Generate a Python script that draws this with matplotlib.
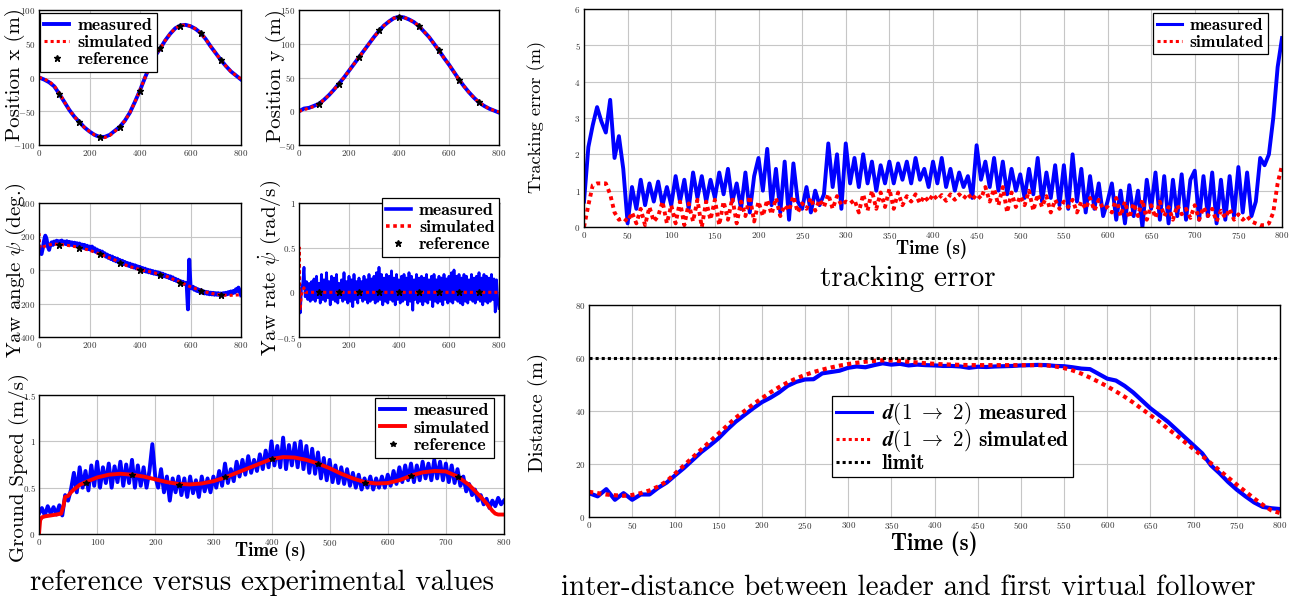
import numpy as np
import matplotlib
matplotlib.use("Agg")
import matplotlib.pyplot as plt
from matplotlib.font_manager import FontProperties
from matplotlib.ticker import FuncFormatter, MultipleLocator

plt.rcParams.update({
    "font.family": "cmr10",
    "mathtext.fontset": "cm",
    "axes.formatter.use_mathtext": True,
    "axes.unicode_minus": False,
})

W, H = 1296, 603
BLUE = "#0000ff"
RED = "#ff0000"

# ---------------------------------------------------------------- data
# trajectory positions, sampled every 20 s
pos_t = [0, 20, 40, 60, 80, 100, 120, 140, 160, 180, 200, 220, 240, 260, 280, 300, 320, 340, 360, 380,
         400, 420, 440, 460, 480, 500, 520, 540, 560, 580, 600, 620, 640, 660, 680, 700, 720, 740, 760, 780, 800]
pos_x_measured = [0, -3, -7, -13, -24, -36, -48, -58, -66, -74, -80, -85, -88, -88, -85, -79, -73, -64, -52, -36,
                  -19, 0, 18, 32, 43, 55, 65, 73, 77, 78, 76, 72, 66, 57, 46, 36, 26, 17, 9, 3, -3]
pos_x_simulated = [0, -2, -6, -12, -23, -36, -48, -58, -66, -74, -80, -85, -88, -89, -86, -80, -73, -64, -52, -36,
                   -19, 0, 18, 32, 43, 55, 65, 73, 77, 78, 76, 72, 66, 57, 46, 36, 26, 17, 9, 3, -2]
pos_y_measured = [0, 4, 5, 8, 11, 17, 24, 32, 41, 50, 60, 70, 80, 90, 100, 110, 119, 127, 133, 138,
                  140, 139, 136, 132, 126, 118, 110, 100, 90, 79, 69, 58, 47, 37, 28, 20, 13, 8, 4, 1, -2]
pos_y_simulated = [0, 2, 5, 7, 11, 17, 24, 32, 41, 50, 60, 70, 80, 90, 100, 110, 119, 127, 133, 138,
                   140, 139, 136, 132, 126, 118, 110, 100, 90, 79, 69, 58, 47, 37, 28, 20, 13, 8, 4, 1, -1]

# reference waypoints every 80 s
ref_t = [80, 160, 240, 320, 400, 480, 560, 640, 720]
ref_x = [-24, -66, -88, -73, -20, 43, 77, 66, 26]
ref_y = [11, 41, 80, 120, 140, 127, 90, 47, 14]
ref_yaw = [152, 133, 95, 44, 0, -30, -79, -125, -152]
ref_rate = [0, 0, 0, 0, 0, 0, 0, 0, 0]
ref_speed = [0.555, 0.64, 0.53, 0.61, 0.81, 0.76, 0.55, 0.63, 0.62]

# measured signals sampled every 5 s (0 ... 800 s)
yaw_measured = [
    140, 100, 95, 130, 175, 205, 185, 140, 120, 150,
    165, 150, 170, 158, 175, 160, 172, 158, 176, 160,
    170, 155, 172, 152, 168, 150, 165, 148, 163, 146,
    160, 140, 158, 138, 152, 132, 150, 128, 145, 125,
    140, 120, 140, 115, 130, 108, 122, 100, 115, 95,
    110, 88, 100, 80, 92, 72, 85, 65, 80, 58,
    72, 52, 68, 45, 60, 40, 55, 35, 48, 30,
    42, 25, 38, 20, 32, 15, 28, 10, 22, 5,
    18, 0, 12, -5, 8, -10, 2, -14, -2, -18,
    -6, -22, -10, -25, -14, -30, -18, -34, -22, -38,
    -28, -42, -34, -48, -38, -54, -44, -60, -52, -66,
    -58, -72, -66, -78, -70, -84, -76, -88, -235, 62,
    -95, -110, -100, -118, -108, -125, -115, -130, -120, -135,
    -126, -140, -130, -142, -132, -145, -135, -146, -136, -148,
    -138, -148, -138, -150, -140, -150, -138, -148, -136, -145,
    -132, -142, -128, -140, -125, -135, -115, -125, -105, -130,
    -150]
yaw_sim_t = [0, 2, 5, 10, 20, 40, 60, 100, 150, 200, 250, 300, 350, 400, 450, 500, 550, 600, 650, 700, 750, 800]
yaw_simulated = [220, 170, 130, 130, 140, 150, 155, 150, 138, 118, 90, 60, 25, 2, -14, -35, -67, -100, -128, -145, -152, -148]

rate_measured = [
    0.0, -0.23, 0.05, 0.1, 0.28, -0.05, 0.12, -0.08, 0.1, -0.1,
    0.12, -0.08, 0.15, -0.1, 0.18, -0.06, 0.1, -0.12, 0.2, -0.08,
    0.14, -0.1, 0.22, -0.06, 0.12, -0.14, 0.18, -0.08, 0.16, -0.1,
    0.2, -0.12, 0.1, -0.06, 0.14, -0.1, 0.22, -0.08, 0.12, -0.12,
    0.18, -0.1, 0.14, -0.16, 0.2, -0.08, 0.12, -0.12, 0.16, -0.06,
    0.12, -0.1, 0.18, -0.08, 0.14, -0.12, 0.2, -0.1, 0.15, -0.08,
    0.18, -0.12, 0.22, -0.1, 0.28, -0.08, 0.2, -0.14, 0.16, -0.1,
    0.2, -0.12, 0.18, -0.08, 0.24, -0.1, 0.16, -0.14, 0.2, -0.08,
    0.14, -0.12, 0.18, -0.1, 0.2, -0.08, 0.16, -0.14, 0.22, -0.1,
    0.18, -0.2, 0.14, -0.08, 0.2, -0.12, 0.16, -0.1, 0.18, -0.14,
    0.16, -0.1, 0.2, -0.12, 0.14, -0.08, 0.18, -0.16, 0.2, -0.1,
    0.14, -0.12, 0.18, -0.1, 0.16, -0.14, 0.2, -0.08, 0.15, -0.12,
    0.18, -0.1, 0.22, -0.12, 0.25, -0.08, 0.18, -0.1, 0.2, -0.12,
    0.16, -0.14, 0.2, -0.1, 0.18, -0.12, 0.14, -0.08, 0.2, -0.1,
    0.16, -0.12, 0.18, -0.08, 0.22, -0.1, 0.16, -0.14, 0.2, -0.1,
    0.18, -0.12, 0.16, -0.1, 0.2, -0.08, 0.15, -0.22, 0.14, -0.1,
    -0.18]
rate_sim_t = [0, 1, 2, 3, 4, 6, 8, 12, 16, 20, 25, 30, 800]
rate_simulated = [0, 0.5, 0.3, -0.1, -0.2, -0.15, -0.05, 0.0, 0.03, 0.05, 0.0, 0.0, 0.0]

speed_measured = [
    0.22, 0.28, 0.2, 0.3, 0.22, 0.29, 0.21, 0.31, 0.2, 0.42,
    0.36, 0.48, 0.66, 0.45, 0.72, 0.5, 0.68, 0.47, 0.74, 0.52,
    0.78, 0.5, 0.72, 0.55, 0.76, 0.5, 0.73, 0.56, 0.78, 0.52,
    0.75, 0.55, 0.8, 0.5, 0.74, 0.52, 0.72, 0.5, 0.68, 0.97,
    0.62, 0.5, 0.7, 0.45, 0.62, 0.36, 0.6, 0.45, 0.62, 0.42,
    0.6, 0.4, 0.62, 0.44, 0.58, 0.4, 0.62, 0.46, 0.6, 0.45,
    0.62, 0.5, 0.68, 0.52, 0.76, 0.55, 0.7, 0.57, 0.78, 0.62,
    0.8, 0.64, 0.84, 0.66, 0.8, 0.68, 0.86, 0.7, 0.9, 0.72,
    1.0, 0.74, 0.95, 0.72, 1.04, 0.7, 0.96, 0.74, 0.98, 0.72,
    1.0, 0.7, 0.95, 0.66, 0.92, 0.65, 0.88, 0.6, 0.82, 0.58,
    0.8, 0.56, 0.74, 0.55, 0.72, 0.54, 0.7, 0.52, 0.66, 0.5,
    0.64, 0.48, 0.6, 0.5, 0.62, 0.48, 0.6, 0.5, 0.62, 0.5,
    0.64, 0.52, 0.68, 0.54, 0.72, 0.56, 0.74, 0.58, 0.76, 0.56,
    0.74, 0.58, 0.78, 0.6, 0.76, 0.58, 0.8, 0.6, 0.78, 0.58,
    0.76, 0.56, 0.74, 0.55, 0.7, 0.52, 0.62, 0.46, 0.54, 0.42,
    0.48, 0.36, 0.42, 0.32, 0.38, 0.28, 0.36, 0.3, 0.39, 0.32,
    0.36]
speed_sim_t = [0, 2, 5, 10, 20, 30, 38, 42, 45, 50, 55, 60, 70, 80, 100, 120, 140, 160, 180, 200,
               220, 240, 260, 280, 300, 320, 340, 360, 380, 400, 420, 440, 460, 480, 500, 520, 540, 560, 580, 600,
               620, 640, 660, 680, 700, 720, 740, 760, 770, 780, 785, 790, 800]
speed_simulated = [0, 0.15, 0.18, 0.19, 0.2, 0.21, 0.22, 0.3, 0.4, 0.41, 0.45, 0.48, 0.53, 0.56, 0.61, 0.64, 0.65, 0.64, 0.62, 0.59,
                   0.56, 0.54, 0.535, 0.545, 0.57, 0.61, 0.66, 0.71, 0.76, 0.81, 0.83, 0.825, 0.8, 0.76, 0.71, 0.65, 0.6, 0.56, 0.545, 0.55,
                   0.58, 0.63, 0.665, 0.68, 0.675, 0.62, 0.53, 0.4, 0.33, 0.25, 0.22, 0.21, 0.21]

err_measured = [
    0.7, 2.2, 2.8, 3.3, 2.9, 2.6, 3.5, 1.9, 2.5, 1.6,
    0.1, 1.1, 0.5, 1.3, 0.6, 1.2, 0.7, 1.25, 0.6, 1.1,
    0.6, 1.4, 0.7, 1.3, 0.5, 1.5, 0.8, 1.4, 0.7, 1.3,
    0.8, 1.5, 0.9, 1.6, 0.7, 1.2, 0.5, 1.5, 0.4, 1.4,
    1.9, 1.0, 2.15, 0.6, 1.6, 0.4, 1.8, 0.2, 1.75, 0.7,
    0.5, 1.1, 0.4, 1.0, 0.6, 0.9, 2.3, 1.1, 2.0, 0.5,
    2.3, 1.2, 1.9, 1.1, 2.0, 1.2, 1.8, 1.0, 1.7, 1.2,
    1.8, 1.2, 1.75, 1.3, 1.8, 1.2, 1.9, 1.3, 1.6, 1.1,
    1.8, 1.2, 1.9, 1.1, 1.6, 1.0, 1.5, 1.1, 1.4, 0.8,
    2.25, 1.3, 1.8, 1.1, 1.9, 1.0, 1.8, 0.9, 1.6, 1.0,
    1.45, 0.8, 1.6, 0.9, 1.9, 0.7, 1.5, 0.8, 1.7, 0.6,
    1.7, 0.5, 2.0, 0.7, 1.6, 0.4, 1.4, 0.5, 1.2, 0.3,
    0.7, 1.2, 0.2, 1.0, 0.1, 1.15, 0.3, 1.0, 0.0, 1.3,
    0.5, 1.5, 0.2, 1.4, 0.1, 1.3, 0.3, 1.45, 0.2, 1.3,
    1.55, 0.2, 1.4, 0.3, 1.5, 0.1, 1.3, 0.2, 1.4, 0.3,
    1.65, 0.4, 1.5, 0.3, 0.7, 1.9, 1.7, 2.0, 3.0, 4.4,
    5.2]
err_simulated = [
    0.0, 0.6, 1.15, 1.2, 1.2, 1.2, 0.9, 0.4, 0.2, 0.25,
    0.15, 0.4, 0.1, 0.5, 0.05, 0.55, 0.15, 0.3, 0.7, 0.1,
    0.6, 0.1, 0.7, 0.05, 0.65, 0.15, 0.75, 0.0, 0.7, 0.2,
    0.75, 0.05, 0.7, 0.2, 0.8, 0.1, 0.7, 0.3, 0.85, 0.15,
    0.7, 0.3, 0.75, 0.35, 0.8, 0.3, 0.6, 0.45, 0.85, 0.4,
    0.65, 0.5, 0.8, 0.45, 0.75, 0.55, 0.9, 0.5, 0.85, 0.6,
    0.7, 0.65, 0.75, 0.4, 0.9, 0.45, 1.0, 0.5, 0.95, 0.55,
    1.05, 0.5, 0.95, 0.6, 0.85, 0.7, 0.9, 0.65, 0.85, 0.7,
    0.9, 0.75, 0.88, 0.72, 0.9, 0.75, 0.9, 0.78, 0.92, 0.75,
    0.9, 0.78, 1.1, 0.7, 1.05, 0.6, 1.1, 0.4, 0.95, 0.55,
    0.85, 0.6, 1.0, 0.45, 0.9, 0.55, 0.85, 0.4, 0.75, 0.5,
    0.7, 0.55, 0.75, 0.4, 0.7, 0.5, 0.8, 0.45, 0.75, 0.5,
    0.55, 0.4, 0.8, 0.3, 0.7, 0.25, 0.65, 0.3, 0.75, 0.2,
    0.6, 0.25, 0.7, 0.3, 0.55, 0.2, 0.6, 0.35, 0.5, 0.25,
    0.6, 0.2, 0.55, 0.3, 0.5, 0.15, 0.45, 0.25, 0.5, 0.2,
    0.35, 0.2, 0.3, 0.15, 0.1, 0.05, 0.05, 0.1, 0.4, 1.2,
    1.7]

# leader / first follower distance, sampled every 10 s
dist_measured = [
    9, 7.8, 10.5, 6.5, 9, 6.5, 8.5, 8.5, 11, 13,
    15.8, 18.5, 21.5, 24.5, 27, 29.7, 33, 36, 38.5, 41,
    43.3, 45, 47, 49.5, 51, 51.9, 52, 54.2, 54.7, 55.2,
    56.3, 56.8, 56.5, 57.3, 58, 57.5, 57.8, 57.2, 57.5, 57.3,
    57.2, 57, 57, 56.8, 56.3, 56.7, 56.6, 56.8, 56.9, 57,
    57.2, 57.3, 57.4, 57.3, 57, 56.9, 56.5, 56, 55.8, 54,
    52.2, 51.5, 49.5, 47, 44, 41, 38.5, 36, 33, 30,
    27, 24, 19.5, 16.5, 13.2, 10.3, 7.8, 5.5, 3.8, 3.3,
    3.0]
dist_simulated = [
    9.5, 9, 8.5, 8.2, 8, 8.3, 9, 10, 11.5, 13.5,
    16.5, 19.5, 22.5, 25.5, 28.5, 31.5, 34.5, 37.5, 40, 42.5,
    44.8, 47, 49, 50.8, 52.3, 53.6, 54.7, 55.6, 56.4, 57.1,
    57.7, 58.2, 58.6, 58.9, 59.1, 59.1, 58.9, 58.6, 58.3, 58,
    57.8, 57.6, 57.5, 57.4, 57.3, 57.3, 57.3, 57.3, 57.3, 57.3,
    57.3, 57.3, 57.3, 57.2, 56.8, 56.2, 55.3, 54.1, 52.6, 51,
    49.3, 47.4, 45.4, 43.2, 40.8, 38.4, 36, 33.4, 30.8, 28.2,
    25.6, 23, 20.3, 17.6, 14.9, 12.2, 9.6, 7, 4.6, 2.5,
    1.5]
dist_limit = 60

t5 = np.arange(len(yaw_measured)) * 5
t10 = np.arange(len(dist_measured)) * 10

# ---------------------------------------------------------------- helpers
DOT = (0, (1, 1))


def rect(l, t, r, b):
    return [l / W, 1 - b / H, (r - l) / W, (b - t) / H]


def style(ax, xlim, ylim, xstep, ystep):
    ax.set_xlim(*xlim)
    ax.set_ylim(*ylim)
    ax.xaxis.set_major_locator(MultipleLocator(xstep))
    ax.yaxis.set_major_locator(MultipleLocator(ystep))
    fmt = FuncFormatter(lambda v, p: f"${v:g}$")
    ax.xaxis.set_major_formatter(fmt)
    ax.yaxis.set_major_formatter(fmt)
    ax.grid(True, color="#c6c6c6", lw=0.8)
    ax.set_axisbelow(True)
    ax.tick_params(labelsize=6.5, length=0, pad=2.5, labelcolor="#333333")
    for s in ax.spines.values():
        s.set_linewidth(1.0)
        s.set_color("black")


def ylab(ax, text, cx, cy, size=15, **kw):
    ax.set_ylabel(text, fontsize=size, va="center", ha="center", **kw)
    inv = ax.transAxes.inverted()
    ax.yaxis.set_label_coords(*inv.transform((cx, H - cy)))


def xlab(ax, text, cx, cy, size=13.6):
    ax.set_xlabel(text, fontsize=size, va="center", ha="center", fontfamily="cmb10")
    inv = ax.transAxes.inverted()
    ax.xaxis.set_label_coords(*inv.transform((cx, H - cy)))


def legend(ax, loc, x, y, size, handle_lw=None, **kw):
    opts = dict(loc=loc, bbox_to_anchor=(x / W, 1 - y / H), bbox_transform=fig.transFigure,
                prop=FontProperties(family="cmb10", size=size), fancybox=False, edgecolor="black",
                framealpha=1, borderpad=0.25, labelspacing=0.1, handlelength=1.4,
                handletextpad=0.45, borderaxespad=0)
    opts.update(kw)
    leg = ax.legend(**opts)
    leg.get_frame().set_linewidth(0.9)
    if handle_lw is not None:
        for ln in leg.get_lines():
            ln.set_linewidth(handle_lw)
    return leg


fig = plt.figure(figsize=(W / 100, H / 100), dpi=100)

# ---------------------------------------------------------------- position x
ax1 = fig.add_axes(rect(39, 10, 241, 145))
style(ax1, (0, 800), (-100, 100), 200, 50)
ax1.plot(pos_t, pos_x_measured, color=BLUE, lw=2.8, label="measured")
ax1.plot(pos_t, pos_x_simulated, color=RED, lw=2.2, ls=DOT, label="simulated")
ax1.plot(ref_t, ref_x, ls="none", marker="*", color="black", ms=5, label="reference")
ylab(ax1, "Position x (m)", 15, 75)
legend(ax1, "upper left", 40, 13, 12.8)

# ---------------------------------------------------------------- position y
ax2 = fig.add_axes(rect(299, 10, 499, 145))
style(ax2, (0, 800), (-50, 150), 200, 50)
ax2.plot(pos_t, pos_y_measured, color=BLUE, lw=2.8)
ax2.plot(pos_t, pos_y_simulated, color=RED, lw=2.2, ls=DOT)
ax2.plot(ref_t, ref_y, ls="none", marker="*", color="black", ms=5)
ylab(ax2, "Position y (m)", 276, 76)

# ---------------------------------------------------------------- yaw angle
ax3 = fig.add_axes(rect(39, 203, 241, 337))
style(ax3, (0, 800), (-400, 400), 200, 200)
ax3.plot(t5, yaw_measured, color=BLUE, lw=2.8)
ax3.plot(yaw_sim_t, yaw_simulated, color=RED, lw=2.2, ls=DOT)
ax3.plot(ref_t, ref_yaw, ls="none", marker="*", color="black", ms=5)
ylab(ax3, r"Yaw angle $\psi$ (deg.)", 16, 270)

# ---------------------------------------------------------------- yaw rate
ax4 = fig.add_axes(rect(299, 203, 499, 337))
style(ax4, (0, 800), (-0.5, 1), 200, 0.5)
ax4.plot(t5, rate_measured, color=BLUE, lw=2.0, label="measured")
ax4.plot(rate_sim_t, rate_simulated, color=RED, lw=2.2, ls=DOT, label="simulated")
ax4.plot(ref_t, ref_rate, ls="none", marker="*", color="black", ms=5, label="reference")
ylab(ax4, r"Yaw rate $\dot{\psi}$ (rad/s)", 270, 268)
legend(ax4, "upper right", 499, 198, 12.8, handle_lw=2.6)

# ---------------------------------------------------------------- ground speed
ax5 = fig.add_axes(rect(39, 395, 504, 534))
style(ax5, (0, 800), (0, 1.5), 100, 0.5)
ax5.plot(t5, speed_measured, color=BLUE, lw=2.8, label="measured")
ax5.plot(speed_sim_t, speed_simulated, color=RED, lw=2.8, label="simulated")
ax5.plot(ref_t, ref_speed, ls="none", marker="*", color="black", ms=4, label="reference")
ylab(ax5, "Ground Speed (m/s)", 19, 468)
xlab(ax5, "Time (s)", 271, 551)
legend(ax5, "upper right", 494, 398, 13)

fig.text(262, H - 583, "reference versus experimental values", transform=None,
         fontsize=21, ha="center", va="center")

# ---------------------------------------------------------------- tracking error
ax6 = fig.add_axes(rect(584, 9, 1282, 227))
style(ax6, (0, 800), (0, 6), 50, 1)
ax6.plot(t5, err_measured, color=BLUE, lw=2.8, label="measured")
ax6.plot(t5, err_simulated, color=RED, lw=2.8, ls=DOT, label="simulated")
ylab(ax6, "Tracking error (m)", 537, 117, size=13.2)
xlab(ax6, "Time (s)", 932, 249)
legend(ax6, "upper right", 1268, 13, 12.6, handle_lw=2.2)

fig.text(908, H - 279, "tracking error", transform=None, fontsize=21, ha="center", va="center")

# ---------------------------------------------------------------- inter-distance
ax7 = fig.add_axes(rect(589, 305, 1280, 517))
style(ax7, (0, 800), (0, 80), 50, 20)
ax7.plot(t10, dist_measured, color=BLUE, lw=3.0,
         label=r"$\boldsymbol{d}\mathbf{(1\ \rightarrow\ 2)}$ measured")
ax7.plot(t10, dist_simulated, color=RED, lw=3.0, ls=DOT,
         label=r"$\boldsymbol{d}\mathbf{(1\ \rightarrow\ 2)}$ simulated")
ax7.axhline(dist_limit, color="black", lw=2.2, ls=DOT, label="limit")
ylab(ax7, "Distance (m)", 538, 412, size=15)
xlab(ax7, "Time (s)", 934, 544, size=16.5)
legend(ax7, "upper left", 832, 396, 15.2, handle_lw=2.2, handlelength=1.7,
       labelspacing=0.0, borderpad=0.2)

fig.text(908, H - 588, "inter-distance between leader and first virtual follower", transform=None,
         fontsize=21, ha="center", va="center")

fig.savefig("out.png", dpi=100)
